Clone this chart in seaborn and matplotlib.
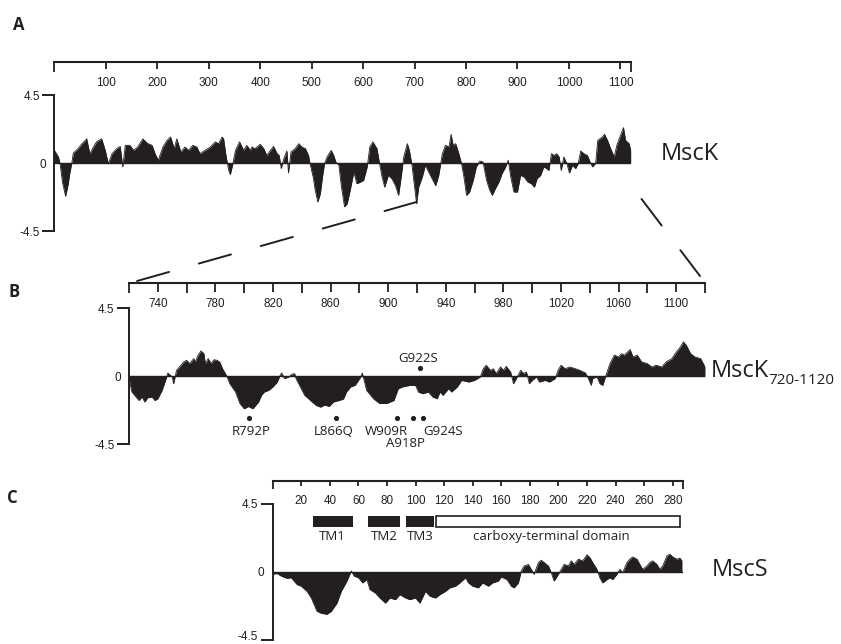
import numpy as np
import pandas as pd
import seaborn as sns
import matplotlib.pyplot as plt
from matplotlib.patches import ConnectionPatch

sns.set_theme(style="white")
plt.rcParams['font.family'] = ['Open Sans', 'DejaVu Sans']
plt.rcParams['lines.scale_dashes'] = False

INK = '#231f20'
W, H = 841, 644

# --- hydropathy profiles (residue number, score) ---
# A: full length MscK
msck_res = [
    0, 8, 11, 16, 22, 27, 30, 34, 37, 46,
    53, 63, 69, 76, 82, 92, 99, 105, 112, 121,
    128, 133, 138, 147, 154, 162, 172, 181, 190, 196,
    202, 211, 219, 226, 233, 238, 246, 254, 261, 269,
    277, 283, 293, 303, 313, 319, 326, 329, 334, 339,
    342, 347, 352, 360, 368, 374, 381, 384, 390, 400,
    407, 413, 420, 426, 433, 437, 441, 446, 452, 455,
    460, 468, 475, 481, 488, 494, 497, 503, 507, 512,
    517, 521, 525, 530, 538, 543, 547, 553, 558, 564,
    569, 575, 582, 588, 595, 601, 608, 613, 619, 627,
    632, 637, 642, 649, 656, 663, 669, 674, 679, 686,
    690, 695, 700, 704, 708, 715, 721, 726, 734, 741,
    747, 754, 760, 767, 771, 775, 780, 786, 791, 796,
    801, 807, 814, 820, 827, 833, 840, 846, 851, 857,
    864, 870, 877, 882, 887, 893, 900, 906, 913, 920,
    927, 933, 938, 945, 951, 957, 961, 966, 971, 976,
    981, 985, 990, 996, 1001, 1007, 1013, 1018, 1023, 1029,
    1036, 1041, 1046, 1052, 1056, 1065, 1069, 1075, 1081, 1088,
    1093, 1099, 1106, 1110, 1117, 1120,
]
msck_val = [
    0.85, 0.4, 0.0, -1.3, -2.2, -1.4, -0.7, 0.0, 0.66, 0.95,
    1.24, 1.6, 0.6, 1.06, 1.4, 1.6, 0.84, -0.05, 0.6, 0.95,
    1.1, -0.26, 1.17, 1.17, 0.84, 1.06, 1.6, 1.3, 1.17, 0.6,
    0.18, 1.06, 1.5, 1.72, 0.95, 1.6, 0.73, 1.06, 0.84, 1.17,
    1.06, 0.62, 0.84, 1.06, 1.4, 1.28, 1.72, 1.6, 0.4, -0.5,
    -0.77, -0.04, 0.84, 1.4, 0.84, 1.17, 0.84, 1.06, 0.95, 1.24,
    0.95, 0.5, 0.84, 1.1, 0.62, 0.5, -0.37, 0.29, 0.8, -0.66,
    0.73, 0.95, 1.28, 1.06, 0.95, 0.5, -0.05, -0.93, -1.8, -2.58,
    -2.03, -0.93, -0.05, 0.4, 0.84, 0.5, 0.07, -0.15, -1.6, -2.9,
    -2.7, -1.8, -0.6, -1.37, -1.26, -1.15, -0.26, 1.06, 1.4, 0.95,
    -0.05, -0.93, -1.6, -0.82, -1.04, -1.5, -2.14, -0.93, 0.4, 1.28,
    0.84, -0.15, -1.6, -2.7, -1.6, -0.93, -0.15, -0.5, -1.04, -1.5,
    -0.82, 0.62, 1.17, 1.06, 1.9, 1.17, 1.28, 0.62, 0.0, -0.93,
    -2.14, -1.92, -1.15, -0.26, 0.13, 0.07, -1.15, -1.8, -2.14, -1.7,
    -1.26, -0.7, -0.26, 0.18, -0.93, -1.92, -1.92, -0.82, -0.93, -1.26,
    -1.37, -1.6, -1.04, -0.82, -0.26, -0.37, -0.5, 0.62, 0.5, 0.62,
    0.4, -0.5, 0.4, -0.04, -0.66, -0.15, -0.37, -0.04, 0.8, 0.62,
    0.5, 0.07, -0.26, 0.0, 1.5, 1.72, 1.9, 1.5, 0.95, 0.4,
    1.17, 1.72, 2.34, 1.5, 1.28, 0.84,
]

# B: MscK residues 720-1120
zoom_res = [
    720, 722, 724, 727, 729, 731, 733, 736, 738, 740,
    743, 745, 747, 750, 751, 753, 755, 758, 760, 762,
    765, 766, 768, 770, 772, 773, 775, 777, 779, 781,
    783, 785, 788, 790, 794, 797, 800, 803, 806, 810,
    812, 814, 817, 820, 823, 825, 826, 828, 831, 833,
    835, 836, 839, 842, 846, 850, 853, 856, 859, 862,
    866, 869, 871, 874, 877, 881, 882, 883, 885, 890,
    894, 899, 904, 907, 910, 915, 919, 921, 924, 928,
    931, 934, 936, 938, 942, 944, 948, 951, 956, 960,
    964, 966, 968, 971, 973, 975, 978, 980, 982, 985,
    987, 989, 992, 994, 996, 998, 1000, 1003, 1005, 1009,
    1012, 1016, 1018, 1020, 1023, 1026, 1030, 1033, 1037, 1039,
    1041, 1042, 1045, 1047, 1049, 1051, 1054, 1057, 1060, 1062,
    1064, 1068, 1070, 1073, 1076, 1080, 1083, 1086, 1090, 1093,
    1097, 1100, 1103, 1105, 1107, 1110, 1113, 1117, 1120,
]
zoom_val = [
    -0.15, -1.04, -1.26, -1.6, -1.37, -1.7, -1.42, -1.37, -1.6, -1.49,
    -0.93, -0.38, 0.22, -0.04, -0.49, 0.4, 0.62, 0.95, 1.06, 0.84,
    1.17, 0.95, 1.4, 1.68, 1.5, 0.84, 1.17, 0.84, 1.1, 1.06,
    0.95, 0.5, 0.0, -0.49, -1.04, -1.8, -2.15, -2.0, -2.15, -1.7,
    -1.26, -1.04, -0.93, -0.7, -0.38, 0.07, 0.22, -0.15, -0.04, 0.13,
    0.18, -0.15, -0.7, -1.26, -1.6, -1.93, -2.04, -1.9, -2.0, -1.7,
    -1.6, -1.5, -1.04, -0.7, -0.6, -0.04, 0.22, -0.15, -0.93, -1.5,
    -1.8, -1.8, -1.6, -0.82, -0.7, -0.6, -0.6, -1.04, -1.15, -1.04,
    -1.37, -1.49, -1.04, -1.26, -0.82, -1.04, -0.7, -0.27, -0.38, -0.27,
    -0.04, 0.5, 0.73, 0.4, 0.5, 0.18, 0.62, 0.4, 0.66, 0.29,
    -0.49, -0.15, 0.4, 0.18, 0.29, -0.49, -0.27, -0.04, -0.38, -0.27,
    -0.38, -0.15, 0.4, 0.73, 0.5, 0.62, 0.5, 0.4, 0.22, -0.15,
    -0.6, -0.15, -0.04, -0.49, -0.6, 0.0, 0.84, 1.4, 1.28, 1.5,
    1.4, 1.77, 1.28, 1.4, 0.95, 0.84, 0.62, 0.73, 0.62, 0.95,
    1.17, 1.6, 1.95, 2.28, 2.06, 1.5, 1.28, 1.17, 0.62,
]

# C: MscS
mscs_res = [
    0, 3, 6, 10, 13, 17, 20, 24, 27, 31,
    34, 38, 41, 45, 48, 52, 55, 57, 60, 63,
    66, 68, 72, 75, 79, 82, 86, 89, 93, 96,
    100, 103, 107, 110, 114, 117, 121, 124, 128, 131,
    135, 137, 140, 144, 147, 151, 154, 158, 160, 164,
    167, 169, 172, 174, 176, 179, 181, 183, 186, 188,
    190, 193, 195, 197, 200, 202, 204, 207, 209, 211,
    214, 217, 220, 222, 224, 227, 229, 231, 234, 236,
    238, 241, 243, 245, 248, 250, 252, 255, 257, 259,
    262, 264, 266, 269, 271, 273, 276, 278, 280, 283,
    285, 286.5,
]
mscs_val = [
    -0.15, -0.1, -0.27, -0.42, -0.38, -0.83, -0.94, -1.28, -1.72, -2.6,
    -2.73, -2.8, -2.6, -2.06, -1.28, -0.6, 0.07, -0.27, -0.38, -0.72,
    -0.5, -1.16, -1.4, -1.72, -2.06, -1.72, -1.83, -1.5, -1.72, -1.83,
    -1.72, -2.06, -1.28, -1.6, -1.72, -1.5, -1.28, -1.05, -0.94, -0.72,
    -0.38, -0.72, -0.94, -1.05, -0.72, -0.94, -0.72, -0.6, -0.33, -0.5,
    -0.94, -1.05, -0.72, 0.07, 0.4, 0.5, 0.18, -0.15, 0.63, 0.78,
    0.63, 0.4, -0.04, -0.6, -0.15, 0.18, 0.5, 0.4, 0.74, 0.5,
    0.85, 0.74, 1.14, 0.96, 0.63, 0.18, -0.38, -0.72, -0.5, -0.38,
    -0.5, -0.15, 0.18, -0.04, 0.63, 0.85, 1.0, 0.85, 0.5, 0.18,
    0.4, 0.63, 0.74, 0.5, 0.18, 0.4, 1.07, 1.18, 1.0, 0.85,
    0.92, 0.74,
]

# MscS topology
tm_names = ['TM1', 'TM2', 'TM3']
tm_start = [28, 67, 93]
tm_end = [56, 89, 113]
ctd_name = 'carboxy-terminal domain'
ctd_start, ctd_end = 114, 285

# point mutations in MscK 720-1120
mut_names = ['R792P', 'L866Q', 'W909R', 'A918P', 'G924S', 'G922S']
mut_res = [803, 864, 906, 917, 924, 922]
mut_val = [-2.75, -2.75, -2.75, -2.75, -2.75, 0.55]

fig = plt.figure(figsize=(W / 100, H / 100), dpi=100)


def box(x0, y0, x1, y1):
    # pixel box (origin top-left) -> figure fraction rect
    return [x0 / W, 1 - y1 / H, (x1 - x0) / W, (y1 - y0) / H]


def profile_axes(rect, xlim, res, val):
    ax = fig.add_axes(rect)
    ax.patch.set_alpha(0)
    ax.set_xlim(*xlim)
    ax.set_ylim(-4.5, 4.5)
    for s in ['top', 'right', 'bottom']:
        ax.spines[s].set_visible(False)
    ax.spines['left'].set_linewidth(1.4)
    ax.spines['left'].set_color(INK)
    ax.set_xticks([])
    ax.set_yticks([-4.5, 4.5], labels=['-4.5', '4.5'])
    ax.set_yticks([0], labels=['0'], minor=True)
    ax.tick_params(axis='y', which='major', left=True, direction='out', length=8.4,
                   width=1.4, color=INK, pad=2, labelsize=8.5, labelcolor=INK)
    ax.tick_params(axis='y', which='minor', left=True, length=0, pad=6,
                   labelsize=8.5, labelcolor=INK)
    for lab in ax.get_yticklabels(minor=False) + ax.get_yticklabels(minor=True):
        lab.set_family(['Liberation Sans Narrow', 'Liberation Sans', 'DejaVu Sans'])
    ax.fill_between(res, val, 0, color=INK, lw=0)
    sns.lineplot(x=res, y=val, ax=ax, color=INK, lw=0.6, estimator=None, sort=False)
    ax.axhline(0, color=INK, lw=1.0)
    ax.set_xlabel('')
    ax.set_ylabel('')
    return ax


def ruler_axes(rect, xlim, major, minor, family, size, major_len, minor_len, pad):
    ax = fig.add_axes(rect)
    ax.patch.set_alpha(0)
    ax.set_xlim(*xlim)
    ax.set_ylim(0, 1)
    for s in ['left', 'right', 'bottom']:
        ax.spines[s].set_visible(False)
    ax.spines['top'].set_linewidth(1.5)
    ax.spines['top'].set_color(INK)
    ax.set_yticks([])
    ax.set_xticks(major, labels=[str(v) for v in major])
    ax.set_xticks(minor, minor=True)
    ax.tick_params(axis='x', which='both', direction='in', top=True, bottom=False,
                   labeltop=False, labelbottom=True, width=1.3, color=INK)
    ax.tick_params(axis='x', which='major', length=major_len, pad=pad,
                   labelsize=size, labelcolor=INK)
    ax.tick_params(axis='x', which='minor', length=minor_len)
    for lab in ax.get_xticklabels():
        lab.set_family(family)
    return ax


WIDE = ['Liberation Sans', 'DejaVu Sans']
NARROW = ['Liberation Sans Narrow', 'Liberation Sans', 'DejaVu Sans']

# ---------------- panel A ----------------
axA = profile_axes(box(54.3, 95, 630.7, 231), (0, 1120), msck_res, msck_val)
rulA = ruler_axes(box(54.3, 61.7, 630.7, 71.7), (0, 1120), list(range(100, 1101, 100)),
                  [0, 1120], WIDE, 8.5, 5, 7.5, 3.6)

# ---------------- panel B ----------------
axB = profile_axes(box(129, 308.3, 705, 444.3), (720, 1120), zoom_res, zoom_val)
rulB = ruler_axes(box(129, 283.3, 705, 293.3), (720, 1120), list(range(740, 1101, 40)),
                  list(range(720, 1121, 40)), NARROW, 8.4, 6.3, 7, 3.4)

sns.scatterplot(x=mut_res, y=mut_val, ax=axB, color=INK, s=14, linewidth=0, zorder=5)
mut_label_x = [805, 862, 899, 912, 938, 921]
mut_label_y = [-3.86, -3.86, -3.86, -4.65, -3.86, 0.95]
for name, lx, ly in zip(mut_names, mut_label_x, mut_label_y):
    axB.text(lx, ly, name, ha='center', va='baseline', fontsize=9.5, color=INK, clip_on=False)

# ---------------- panel C ----------------
axC = profile_axes(box(272.7, 504, 682.7, 640), (0, 287), mscs_res, mscs_val)
rulC = ruler_axes(box(272.7, 481, 682.7, 491), (0, 287), list(range(20, 281, 20)),
                  [0, 287], NARROW, 8.4, 3.6, 6, 2.9)
# bottom label sits on the page edge: rest it on its tick
axC.get_yticklabels()[0].set_va('baseline')

axC.barh(y=3.33, width=[e - s for s, e in zip(tm_start, tm_end)], left=tm_start,
         height=0.72, color=INK, edgecolor=INK, lw=0)
axC.barh(y=3.33, width=ctd_end - ctd_start, left=ctd_start, height=0.72,
         color='white', edgecolor=INK, lw=1.2)
for name, s, e in zip(tm_names, tm_start, tm_end):
    axC.text((s + e) / 2, 2.15, name, ha='center', va='baseline', fontsize=9.5, color=INK)
axC.text(195, 2.15, ctd_name, ha='center', va='baseline', fontsize=9.5, color=INK)

# ---------------- labels ----------------
for letter, x, y in [('A', 13, 30), ('B', 9, 297), ('C', 7, 503)]:
    fig.text(x / W, 1 - y / H, letter, fontsize=12, fontweight='bold', color=INK, va='baseline')

fig.text(661 / W, 1 - 160 / H, 'MscK', fontsize=17, color=INK, va='baseline')
tB = fig.text(711 / W, 1 - 376.7 / H, 'MscK', fontsize=17, color=INK, va='baseline')
axB.annotate('720-1120', xy=(1, 0), xycoords=tB, xytext=(-0.5, -3.5), textcoords='offset points',
             fontsize=11, color=INK, va='bottom', ha='left', annotation_clip=False)
fig.text(712 / W, 1 - 576 / H, 'MscS', fontsize=17, color=INK, va='baseline')

# ---------------- zoom connectors A -> B ----------------
link_from = [(704, -2.58), (1141, -2.38)]
link_to = [(725.6, 1.23), (1116.5, 1.73)]
for a, b in zip(link_from, link_to):
    con = ConnectionPatch(xyA=a, coordsA=axA.transData, xyB=b, coordsB=rulB.transData,
                          color=INK, lw=1.4, linestyle=(0, (24, 22.3)))
    fig.add_artist(con)

fig.savefig('out.png', dpi=100)
